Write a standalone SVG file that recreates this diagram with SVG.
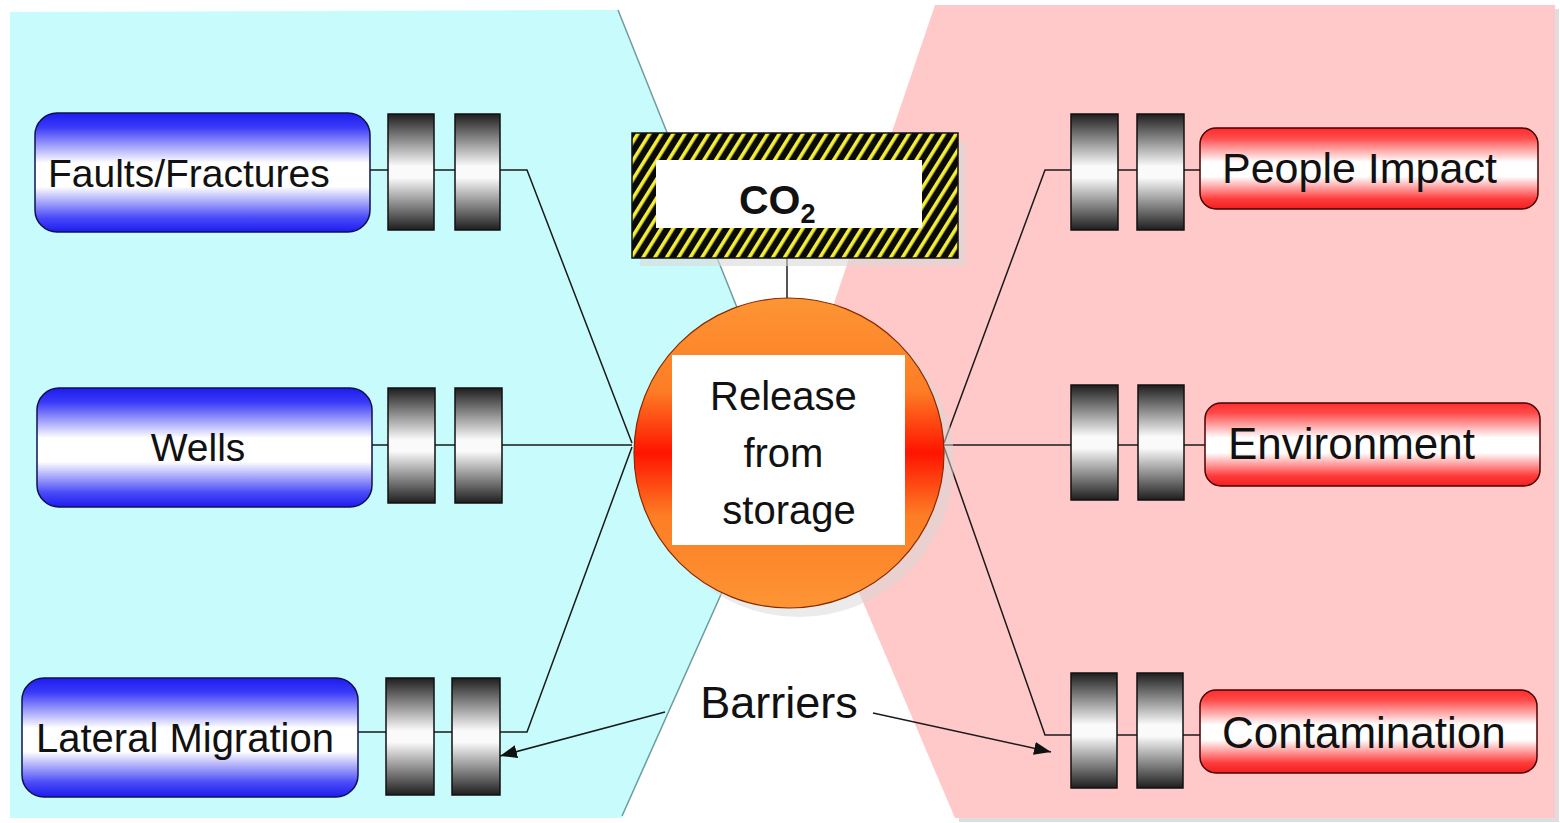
<svg xmlns="http://www.w3.org/2000/svg" width="1560" height="823" viewBox="0 0 1560 823">
  <style>
    .lbl { font-family: "Liberation Sans", Arial, sans-serif; fill: #111; }
    .conn { fill: none; stroke: #1a1a1a; stroke-width: 1.5; }
    .bar { fill: url(#barGrad); stroke: #111; stroke-width: 1.5; }
    .cause { fill: url(#blueGrad); stroke: #101050; stroke-width: 1.5; }
    .effect { fill: url(#redGrad); stroke: #4a0000; stroke-width: 1.5; }
  </style>
  <defs>
    <linearGradient id="blueGrad" x1="0" y1="0" x2="0" y2="1">
      <stop offset="0" stop-color="#1c1cf0"/>
      <stop offset="0.12" stop-color="#3a3af8"/>
      <stop offset="0.42" stop-color="#ffffff"/>
      <stop offset="0.62" stop-color="#ffffff"/>
      <stop offset="0.88" stop-color="#4a4af8"/>
      <stop offset="1" stop-color="#1c1cf0"/>
    </linearGradient>
    <linearGradient id="redGrad" x1="0" y1="0" x2="0" y2="1">
      <stop offset="0" stop-color="#ff2c2c"/>
      <stop offset="0.12" stop-color="#ff4a4a"/>
      <stop offset="0.42" stop-color="#ffffff"/>
      <stop offset="0.6" stop-color="#ffffff"/>
      <stop offset="0.88" stop-color="#ff3a3a"/>
      <stop offset="1" stop-color="#f02020"/>
    </linearGradient>
    <linearGradient id="barGrad" x1="0" y1="0" x2="0" y2="1">
      <stop offset="0" stop-color="#1e1e1e"/>
      <stop offset="0.45" stop-color="#fafafa"/>
      <stop offset="0.55" stop-color="#fafafa"/>
      <stop offset="1" stop-color="#1e1e1e"/>
    </linearGradient>
    <linearGradient id="coreGrad" x1="0" y1="0" x2="0" y2="1">
      <stop offset="0" stop-color="#fd9535"/>
      <stop offset="0.3" stop-color="#fd7d25"/>
      <stop offset="0.5" stop-color="#ff1400"/>
      <stop offset="0.7" stop-color="#fd7d25"/>
      <stop offset="1" stop-color="#fd9535"/>
    </linearGradient>
    <pattern id="hazard" width="10" height="10" patternUnits="userSpaceOnUse" patternTransform="rotate(32)">
      <rect width="10" height="10" fill="#0a0a0a"/>
      <rect x="0" y="0" width="3.6" height="10" fill="#f2ee3a"/>
    </pattern>
    <marker id="arrow" viewBox="0 0 10 10" refX="10" refY="5" markerWidth="17" markerHeight="13" markerUnits="userSpaceOnUse" orient="auto" preserveAspectRatio="none">
      <path d="M0,0 L10,5 L0,10 z" fill="#111"/>
    </marker>
  </defs>

  <rect width="1560" height="823" fill="#ffffff"/>

  <!-- background zones: causes (left) and consequences (right) -->
  <g id="zones">
    <rect x="959" y="9" width="600" height="813" fill="#c8c8c8" opacity="0.6"/>
    <polygon points="935,5 1555,5 1555,818 955,818 860,595 800,450 835,300" fill="#ffc9c9"/>
    <polygon points="10,12 618,10 790,440 622,818 10,818" fill="#c8fcfc"/>
    <polyline points="618,10 790,440 622,816" fill="none" stroke="#6f9c9c" stroke-width="1.5"/>
  </g>

  <!-- connectors -->
  <g id="connectors">
    <polyline class="conn" points="370,170 527,170 632,443"/>
    <polyline class="conn" points="372,445 632,445"/>
    <polyline class="conn" points="358,732 527,732 632,447"/>
    <line class="conn" x1="787" y1="258" x2="787" y2="303"/>
    <polyline class="conn" points="944,443 1045,170 1200,170"/>
    <polyline class="conn" points="944,445 1205,445"/>
    <polyline class="conn" points="944,447 1045,735 1200,735"/>
    <line class="conn" x1="665" y1="712" x2="500" y2="756" marker-end="url(#arrow)"/>
    <line class="conn" x1="873" y1="713" x2="1051" y2="752" marker-end="url(#arrow)"/>
  </g>

  <!-- causes -->
  <g id="faults">
    <rect class="cause" x="35" y="113" width="335" height="119" rx="22"/>
    <text class="lbl" x="48" y="187" font-size="39">Faults/Fractures</text>
  </g>
  <g id="faults-barriers">
    <rect class="bar" x="388" y="114" width="46" height="116"/>
    <rect class="bar" x="455" y="114" width="45" height="116"/>
  </g>

  <g id="wells">
    <rect class="cause" x="37" y="388" width="335" height="119" rx="22"/>
    <text class="lbl" x="198" y="461" font-size="39" text-anchor="middle">Wells</text>
  </g>
  <g id="wells-barriers">
    <rect class="bar" x="388" y="388" width="47" height="115"/>
    <rect class="bar" x="455" y="388" width="47" height="115"/>
  </g>

  <g id="lateral">
    <rect class="cause" x="22" y="678" width="336" height="119" rx="22"/>
    <text class="lbl" x="36" y="752" font-size="40">Lateral Migration</text>
  </g>
  <g id="lateral-barriers">
    <rect class="bar" x="386" y="678" width="48" height="117"/>
    <rect class="bar" x="452" y="678" width="48" height="117"/>
  </g>

  <!-- hazard -->
  <g id="co2">
    <rect x="640" y="141" width="326" height="125" fill="#d8d8d8" opacity="0.6"/>
    <rect x="632" y="133" width="326" height="125" fill="url(#hazard)" stroke="#111" stroke-width="1.5"/>
    <rect x="656" y="160" width="266" height="68" fill="#ffffff"/>
    <text class="lbl" x="739" y="214" font-size="41" font-weight="bold">CO<tspan font-size="27" dy="9">2</tspan></text>
  </g>

  <!-- top event -->
  <g id="release">
    <circle cx="799" cy="462" r="155" fill="#d8d8d8" opacity="0.5"/>
    <circle cx="789" cy="453" r="155" fill="url(#coreGrad)" stroke="#8a2a00" stroke-width="1.2"/>
    <rect x="672" y="355" width="233" height="190" fill="#ffffff"/>
    <text class="lbl" font-size="40" text-anchor="middle">
      <tspan x="789" y="410">Release</tspan>
      <tspan x="789" y="467">from</tspan>
      <tspan x="789" y="524">storage</tspan>
    </text>
  </g>

  <!-- consequences -->
  <g id="people-barriers">
    <rect class="bar" x="1071" y="114" width="47" height="116"/>
    <rect class="bar" x="1137" y="114" width="47" height="116"/>
  </g>
  <g id="people">
    <rect class="effect" x="1200" y="128" width="338" height="81" rx="16"/>
    <text class="lbl" x="1222" y="183" font-size="43">People Impact</text>
  </g>

  <g id="environment-barriers">
    <rect class="bar" x="1071" y="385" width="47" height="115"/>
    <rect class="bar" x="1138" y="385" width="46" height="115"/>
  </g>
  <g id="environment">
    <rect class="effect" x="1205" y="403" width="335" height="83" rx="16"/>
    <text class="lbl" x="1228" y="459" font-size="44">Environment</text>
  </g>

  <g id="contamination-barriers">
    <rect class="bar" x="1071" y="673" width="46" height="115"/>
    <rect class="bar" x="1137" y="673" width="46" height="115"/>
  </g>
  <g id="contamination">
    <rect class="effect" x="1200" y="690" width="337" height="83" rx="16"/>
    <text class="lbl" x="1222" y="748" font-size="44">Contamination</text>
  </g>

  <g id="barriers-label">
    <text class="lbl" x="779" y="718" font-size="45" text-anchor="middle">Barriers</text>
  </g>
</svg>
